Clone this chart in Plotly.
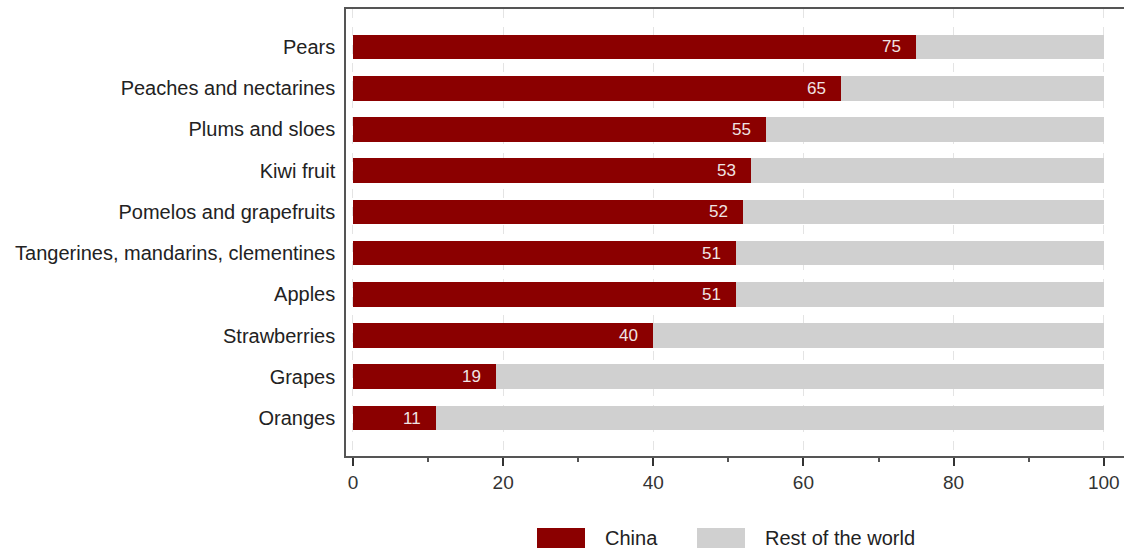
import plotly.graph_objects as go

# Share of world production, percent
fruits = [
    "Pears",
    "Peaches and nectarines",
    "Plums and sloes",
    "Kiwi fruit",
    "Pomelos and grapefruits",
    "Tangerines, mandarins, clementines",
    "Apples",
    "Strawberries",
    "Grapes",
    "Oranges",
]
china_share = [75, 65, 55, 53, 52, 51, 51, 40, 19, 11]
rest_share = [25, 35, 45, 47, 48, 49, 49, 60, 81, 89]

series_names = ["China", "Rest of the world"]
series_colors = ["#8b0000", "#d0d0d0"]

FONT = "Liberation Sans, Arial, sans-serif"

fig = go.Figure()
for name, vals, col in zip(series_names, [china_share, rest_share], series_colors):
    fig.add_trace(go.Bar(
        y=fruits, x=vals, name=name, orientation="h",
        marker=dict(color=col, line=dict(width=0)),
        showlegend=False, hoverinfo="x+y",
    ))

# value labels inside the China bars, right-aligned near the bar end
for f, v in zip(fruits, china_share):
    fig.add_annotation(
        x=v, y=f, xref="x", yref="y", text=str(v), showarrow=False,
        xanchor="right", xshift=-13,
        font=dict(family=FONT, size=17, color="#f0e4e4"),
    )

# legend below the plot
legend_x = [537, 697]
for name, col, lx in zip(series_names, series_colors, legend_x):
    x0 = (lx - 346) / 778
    x1 = (lx + 48 - 346) / 778
    fig.add_shape(type="rect", xref="paper", yref="paper",
                  x0=x0, x1=x1, y0=(456 - 548) / 447, y1=(456 - 528) / 447,
                  fillcolor=col, line=dict(width=0))
    fig.add_annotation(
        x=(lx + 66 - 346) / 778, y=(456 - 538) / 447, xref="paper", yref="paper",
        text=name, showarrow=False, xanchor="left", yanchor="middle",
        font=dict(family=FONT, size=20, color="#222222"),
    )

fig.update_layout(
    barmode="stack",
    bargap=0.4,
    width=1124, height=549,
    margin=dict(l=346, r=0, t=9, b=93),
    paper_bgcolor="white", plot_bgcolor="white",
    font=dict(family=FONT, size=18, color="#222222"),
    xaxis=dict(
        range=[-0.93, 102.7],
        tickvals=[0, 20, 40, 60, 80, 100],
        showgrid=True, gridcolor="#e4e4e4", griddash="dash", gridwidth=1,
        zeroline=False,
        showline=True, linecolor="#555555", linewidth=1.5, mirror=True,
        ticks="outside", ticklen=8, tickcolor="#333333", tickwidth=1.5,
        minor=dict(tickvals=[10, 30, 50, 70, 90], ticks="outside", ticklen=4,
                   tickcolor="#555555", tickwidth=1.5, showgrid=False),
        tickfont=dict(family=FONT, size=19, color="#333333"),
    ),
    yaxis=dict(
        categoryorder="array", categoryarray=fruits[::-1],
        range=[-0.92, 9.92],
        showgrid=False, zeroline=False,
        showline=True, linecolor="#555555", linewidth=1.5,
        ticks="", ticklabelstandoff=5,
        tickfont=dict(family=FONT, size=20, color="#222222"),
    ),
)

fig.write_html("out.html")
